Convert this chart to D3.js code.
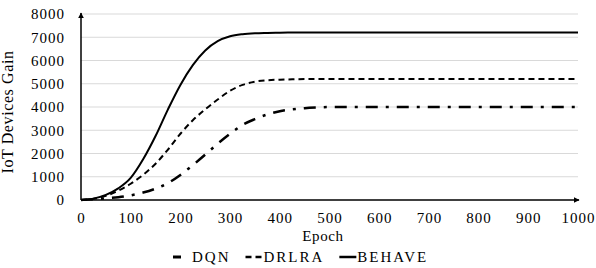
<!DOCTYPE html>
<html>
<head>
<meta charset="utf-8">
<script src="https://cdn.jsdelivr.net/npm/d3@7"></script>
<style>
  body { margin: 0; background: #fff; }
  svg text { font-family: "Liberation Serif", "Times New Roman", "DejaVu Serif", serif; fill: #000; }
</style>
</head>
<body>
<div id="chart"></div>
<script>
const epochs = [0, 25, 50, 75, 100, 125, 150, 175, 200, 225, 250, 275, 300, 325, 350, 375, 400, 425, 450, 475, 500,
    550, 600, 650, 700, 750, 800, 850, 900, 950, 1000];
const dqn = [0, 30, 70, 120, 200, 320, 490, 730, 1080, 1500, 1950, 2420, 2850, 3230, 3480, 3680, 3820, 3900, 3950, 3980, 4000,
    4000, 4000, 4000, 4000, 4000, 4000, 4000, 4000, 4000, 4000];
const drlra = [0, 50, 180, 400, 700, 1080, 1560, 2170, 2850, 3430, 3900, 4320, 4700, 4950, 5090, 5150, 5175, 5190, 5200, 5200, 5200,
    5200, 5200, 5200, 5200, 5200, 5200, 5200, 5200, 5200, 5200];
const behave = [0, 60, 220, 500, 950, 1750, 2750, 3900, 4950, 5800, 6430, 6830, 7040, 7130, 7170, 7185, 7195, 7200, 7200, 7200, 7200,
    7200, 7200, 7200, 7200, 7200, 7200, 7200, 7200, 7200, 7200];
const seriesNames = ["DQN", "DRLRA", "BEHAVE"];
const xTicks = [0, 100, 200, 300, 400, 500, 600, 700, 800, 900, 1000];
const yTicks = [0, 1000, 2000, 3000, 4000, 5000, 6000, 7000, 8000];

const W = 596, H = 268;
const plotLeft = 81, plotRight = 578, plotTop = 14, plotBottom = 200;
const fontStack = '"Liberation Serif", "Times New Roman", "DejaVu Serif", serif';

const svg = d3.select("#chart").append("svg")
    .attr("width", W)
    .attr("height", H);

const x = d3.scaleLinear().domain([0, 1000]).range([plotLeft, plotRight]);
const y = d3.scaleLinear().domain([0, 8000]).range([plotBottom, plotTop]);

// grid
svg.append("g")
    .selectAll("line")
    .data(yTicks.filter(d => d > 0))
    .enter()
    .append("line")
    .attr("x1", plotLeft)
    .attr("x2", plotRight)
    .attr("y1", d => y(d))
    .attr("y2", d => y(d))
    .attr("stroke", "#d9d9d9")
    .attr("stroke-width", 1);

// tick labels
const yAxis = svg.append("g")
    .attr("transform", `translate(${plotLeft},0)`)
    .call(d3.axisLeft(y).tickValues(yTicks).tickFormat(d3.format("d")).tickSize(0).tickPadding(16));
yAxis.attr("font-family", null);
yAxis.select(".domain").remove();
yAxis.selectAll("text")
    .style("font-family", fontStack)
    .style("font-size", "15px")
    .style("letter-spacing", "1px");

const xAxis = svg.append("g")
    .attr("transform", `translate(0,${plotBottom})`)
    .call(d3.axisBottom(x).tickValues(xTicks).tickFormat(d3.format("d")).tickSize(0).tickPadding(12));
xAxis.attr("font-family", null);
xAxis.select(".domain").remove();
xAxis.selectAll("text")
    .style("font-family", fontStack)
    .style("font-size", "15px")
    .style("letter-spacing", "1px");

// arrowed axis lines
const defs = svg.append("defs");
defs.append("marker")
    .attr("id", "arrow")
    .attr("viewBox", "0 0 10 10")
    .attr("refX", 9)
    .attr("refY", 5)
    .attr("markerWidth", 4)
    .attr("markerHeight", 4)
    .attr("orient", "auto")
    .append("path")
    .attr("d", "M0,0 L10,5 L0,10 z")
    .attr("fill", "#000");

svg.append("line")
    .attr("x1", plotLeft).attr("x2", plotLeft)
    .attr("y1", plotBottom).attr("y2", plotTop - 1)
    .attr("stroke", "#000").attr("stroke-width", 1.5)
    .attr("marker-end", "url(#arrow)");
svg.append("line")
    .attr("x1", plotLeft).attr("x2", plotRight + 1)
    .attr("y1", plotBottom).attr("y2", plotBottom)
    .attr("stroke", "#000").attr("stroke-width", 1.5)
    .attr("marker-end", "url(#arrow)");

// lines
const styles = {
    DQN: { dash: "12,8,3,8", width: 2.5, legendDash: null, legendLen: 8, textGap: 11 },
    DRLRA: { dash: "6,4", width: 2, legendDash: "6,4", legendLen: 16, textGap: 2 },
    BEHAVE: { dash: null, width: 2, legendDash: null, legendLen: 17, textGap: 1 }
};
const seriesData = { DQN: dqn, DRLRA: drlra, BEHAVE: behave };

const line = d3.line()
    .x(d => x(d[0]))
    .y(d => y(d[1]))
    .curve(d3.curveMonotoneX);

seriesNames.forEach(name => {
    const pts = epochs.map((e, i) => [e, seriesData[name][i]]);
    svg.append("path")
        .datum(pts)
        .attr("d", line)
        .attr("fill", "none")
        .attr("stroke", "#000")
        .attr("stroke-width", styles[name].width)
        .attr("stroke-dasharray", styles[name].dash);
});

// axis titles
svg.append("text")
    .attr("transform", `translate(13,112) rotate(-90)`)
    .attr("text-anchor", "middle")
    .style("font-size", "16px")
    .style("letter-spacing", "0.6px")
    .text("IoT Devices Gain");

svg.append("text")
    .attr("x", 323)
    .attr("y", 241)
    .attr("text-anchor", "middle")
    .style("font-size", "15px")
    .style("letter-spacing", "0.6px")
    .text("Epoch");

// legend
const legend = svg.append("g");
let lx = 173;
const ly = 257;
seriesNames.forEach(name => {
    const st = styles[name];
    legend.append("line")
        .attr("x1", lx).attr("x2", lx + st.legendLen)
        .attr("y1", ly).attr("y2", ly)
        .attr("stroke", "#000")
        .attr("stroke-width", st.width + 0.5)
        .attr("stroke-dasharray", st.legendDash);
    lx += st.legendLen + st.textGap;
    const t = legend.append("text")
        .attr("x", lx)
        .attr("y", ly + 5)
        .style("font-size", "15px")
        .style("letter-spacing", "2px")
        .text(name);
    lx += t.node().getComputedTextLength() + 15;
});
</script>
</body>
</html>
